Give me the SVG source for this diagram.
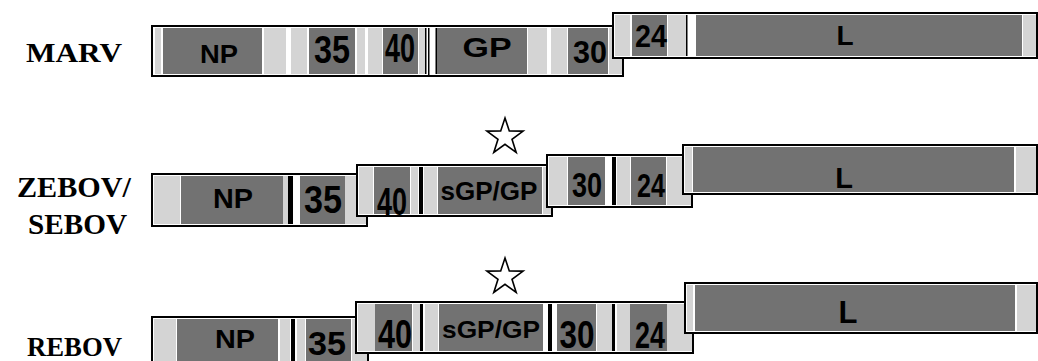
<svg xmlns="http://www.w3.org/2000/svg" width="1038" height="361" viewBox="0 0 1038 361">
<style>
.box{fill:#fff;stroke:#000;stroke-width:2}
.d{fill:#727272}
.l{fill:#d4d4d4}
.k{fill:#000}
.g{font-family:"Liberation Sans",Arial,sans-serif;font-weight:bold;fill:#000;text-anchor:middle}
.v{font-family:"Liberation Serif","Times New Roman",serif;font-weight:bold;fill:#000}
.star{fill:#fff;stroke:#000;stroke-width:1.6;stroke-linejoin:miter}
</style>
<defs>
<polygon id="st" points="0,-19 4.3,-6 18.1,-5.9 7,2.3 11.2,15.4 0,7.3 -11.2,15.4 -7,2.3 -18.1,-5.9 -4.3,-6"/>
</defs>
<g id="connectors"/>

<!-- labels -->
<g id="label-marv"><text class="v" x="26" y="62" font-size="28" textLength="96" lengthAdjust="spacingAndGlyphs">MARV</text></g>
<g id="label-zebov"><text class="v" x="17" y="197" font-size="29" textLength="114" lengthAdjust="spacingAndGlyphs">ZEBOV/</text><text class="v" x="28" y="234" font-size="29" textLength="99" lengthAdjust="spacingAndGlyphs">SEBOV</text></g>
<g id="label-rebov"><text class="v" x="27" y="356" font-size="27" textLength="95" lengthAdjust="spacingAndGlyphs">REBOV</text></g>

<!-- MARV -->
<g id="marv-box1">
<rect class="box" x="152" y="26" width="471" height="50"/>
<rect class="l" x="155" y="28" width="6" height="46"/>
<rect class="d" x="163" y="28" width="99" height="46"/>
<rect class="l" x="264" y="28" width="22" height="46"/>
<rect class="l" x="291" y="28" width="16" height="46"/>
<rect class="d" x="309" y="28" width="46" height="46"/>
<rect class="l" x="357" y="28" width="8" height="46"/>
<rect class="l" x="368" y="28" width="14" height="46"/>
<rect class="d" x="383" y="28" width="35" height="46"/>
<rect class="l" x="419" y="28" width="6" height="46"/>
<rect class="k" x="425" y="28" width="1.5" height="46"/>
<rect class="k" x="428" y="28" width="1.5" height="49"/>
<rect class="k" x="435.5" y="28" width="1.5" height="46"/>
<rect class="d" x="437" y="28" width="90" height="46"/>
<rect class="l" x="528" y="28" width="19" height="46"/>
<rect class="l" x="551" y="28" width="16" height="46"/>
<rect class="d" x="568" y="28" width="40" height="46"/>
<rect class="l" x="609" y="28" width="13" height="46"/>
<text class="g" x="219" y="63" font-size="26" textLength="38" lengthAdjust="spacingAndGlyphs">NP</text>
<text class="g" x="332" y="63" font-size="38" textLength="36" lengthAdjust="spacingAndGlyphs">35</text>
<text class="g" x="400" y="62" font-size="40" textLength="30" lengthAdjust="spacingAndGlyphs">40</text>
<text class="g" x="487" y="57" font-size="27" textLength="49" lengthAdjust="spacingAndGlyphs">GP</text>
<text class="g" x="590" y="63" font-size="32" textLength="34" lengthAdjust="spacingAndGlyphs">30</text>
</g>
<g id="marv-box2">
<rect class="box" x="613" y="13" width="424" height="45"/>
<rect class="l" x="615" y="15" width="15" height="41"/>
<rect class="d" x="632" y="15" width="35" height="41"/>
<rect class="l" x="668" y="15" width="18" height="41"/>
<rect class="k" x="686" y="15" width="1.5" height="41"/>
<rect class="d" x="696" y="15" width="326" height="41"/>
<rect class="l" x="1023" y="15" width="13" height="41"/>
<text class="g" x="651" y="47" font-size="31" textLength="32" lengthAdjust="spacingAndGlyphs">24</text>
<text class="g" x="845" y="45" font-size="28">L</text>
</g>

<!-- ZEBOV -->
<g id="zebov-star"><use href="#st" class="star" x="505" y="137"/></g>
<g id="zebov-box1">
<rect class="box" x="152" y="174" width="215" height="52"/>
<rect class="l" x="154" y="176" width="26" height="48"/>
<rect class="d" x="181" y="176" width="102" height="48"/>
<rect class="l" x="283" y="176" width="5" height="48"/>
<rect class="k" x="288" y="176" width="5" height="48"/>
<rect class="d" x="300" y="176" width="45" height="48"/>
<rect class="l" x="345" y="176" width="21" height="48"/>
<text class="g" x="233" y="208" font-size="28" textLength="40" lengthAdjust="spacingAndGlyphs">NP</text>
<text class="g" x="323" y="213" font-size="38" textLength="38" lengthAdjust="spacingAndGlyphs">35</text>
</g>
<g id="zebov-box2">
<rect class="box" x="357" y="165" width="195" height="51"/>
<rect class="l" x="359" y="167" width="14" height="47"/>
<rect class="d" x="374" y="167" width="36" height="47"/>
<rect class="l" x="411" y="167" width="7" height="47"/>
<rect class="k" x="419" y="167" width="4" height="47"/>
<rect class="l" x="424" y="167" width="13" height="47"/>
<rect class="d" x="438" y="167" width="104" height="47"/>
<rect class="l" x="543" y="167" width="8" height="47"/>
<text class="g" x="392" y="215" font-size="38" textLength="30" lengthAdjust="spacingAndGlyphs">40</text>
<text class="g" x="489" y="200" font-size="25" textLength="97" lengthAdjust="spacingAndGlyphs">sGP/GP</text>
</g>
<g id="zebov-box3">
<rect class="box" x="547" y="155" width="145" height="52"/>
<rect class="l" x="549" y="157" width="18" height="48"/>
<rect class="d" x="568" y="157" width="37" height="48"/>
<rect class="k" x="612" y="157" width="4" height="48"/>
<rect class="l" x="617" y="157" width="13" height="48"/>
<rect class="d" x="631" y="157" width="35" height="48"/>
<rect class="l" x="667" y="157" width="24" height="48"/>
<text class="g" x="587" y="197" font-size="35" textLength="30" lengthAdjust="spacingAndGlyphs">30</text>
<text class="g" x="651" y="197" font-size="34" textLength="28" lengthAdjust="spacingAndGlyphs">24</text>
</g>
<g id="zebov-box4">
<rect class="box" x="683" y="145" width="354" height="49"/>
<rect class="l" x="685" y="147" width="7" height="45"/>
<rect class="d" x="693" y="147" width="321" height="45"/>
<rect class="l" x="1016" y="147" width="20" height="45"/>
<text class="g" x="844" y="188" font-size="29">L</text>
</g>

<!-- REBOV -->
<g id="rebov-star"><use href="#st" class="star" x="505" y="277"/></g>
<g id="rebov-box1">
<rect class="box" x="152" y="317" width="216" height="52"/>
<rect class="l" x="154" y="319" width="22" height="48"/>
<rect class="d" x="177" y="319" width="101" height="48"/>
<rect class="l" x="280" y="319" width="10" height="48"/>
<rect class="k" x="291" y="319" width="4" height="48"/>
<rect class="l" x="297" y="319" width="8" height="48"/>
<rect class="d" x="306" y="319" width="45" height="48"/>
<rect class="l" x="352" y="319" width="15" height="48"/>
<text class="g" x="235" y="348" font-size="25" textLength="40" lengthAdjust="spacingAndGlyphs">NP</text>
<text class="g" x="327" y="355" font-size="33" textLength="38" lengthAdjust="spacingAndGlyphs">35</text>
</g>
<g id="rebov-box2">
<rect class="box" x="356" y="302" width="337" height="51"/>
<rect class="l" x="358" y="304" width="17" height="47"/>
<rect class="d" x="375" y="304" width="37" height="47"/>
<rect class="l" x="413" y="304" width="7" height="47"/>
<rect class="k" x="420" y="304" width="3" height="47"/>
<rect class="l" x="425" y="304" width="13" height="47"/>
<rect class="d" x="439" y="304" width="104" height="47"/>
<rect class="k" x="548" y="304" width="4" height="47"/>
<rect class="d" x="557" y="304" width="39" height="47"/>
<rect class="l" x="597" y="304" width="15" height="47"/>
<rect class="k" x="612" y="304" width="3" height="47"/>
<rect class="l" x="617" y="304" width="13" height="47"/>
<rect class="d" x="630" y="304" width="37" height="47"/>
<rect class="l" x="667" y="304" width="25" height="47"/>
<text class="g" x="395" y="348" font-size="40" textLength="34" lengthAdjust="spacingAndGlyphs">40</text>
<text class="g" x="491" y="338" font-size="24" textLength="98" lengthAdjust="spacingAndGlyphs">sGP/GP</text>
<text class="g" x="577" y="348" font-size="38" textLength="35" lengthAdjust="spacingAndGlyphs">30</text>
<text class="g" x="650" y="348" font-size="36" textLength="30" lengthAdjust="spacingAndGlyphs">24</text>
</g>
<g id="rebov-box3">
<rect class="box" x="685" y="283" width="352" height="50"/>
<rect class="l" x="687" y="285" width="6" height="46"/>
<rect class="d" x="695" y="285" width="320" height="46"/>
<rect class="l" x="1017" y="285" width="19" height="46"/>
<text class="g" x="848" y="323" font-size="31">L</text>
</g>
</svg>
